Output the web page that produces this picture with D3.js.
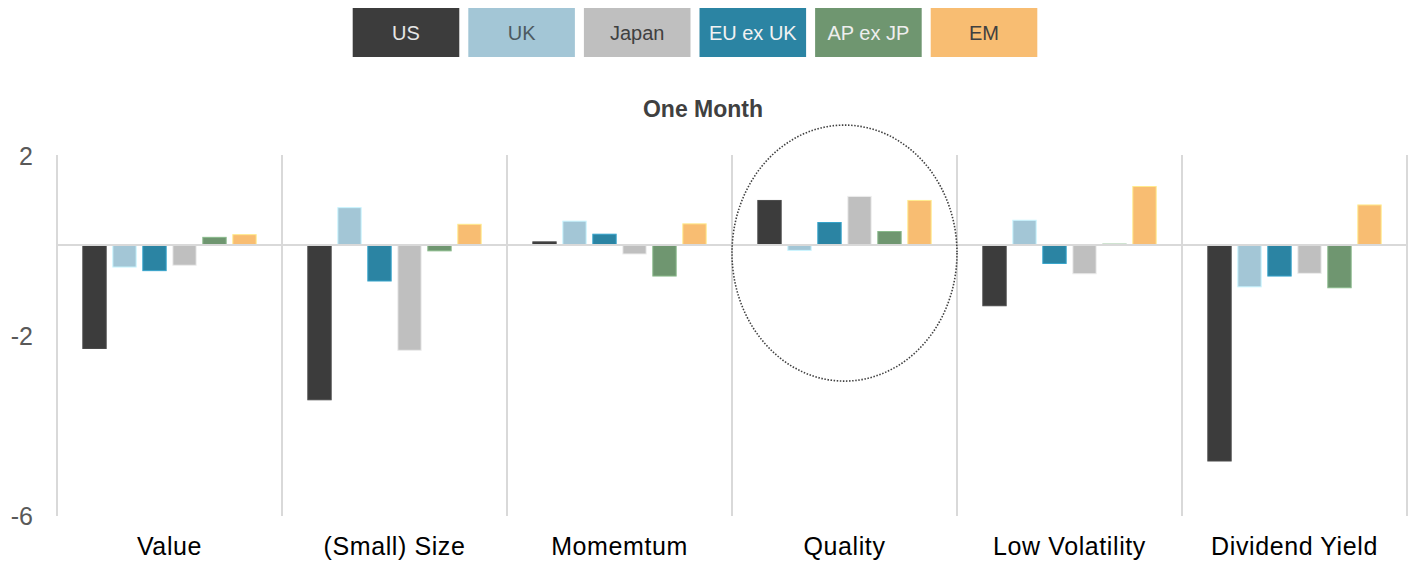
<!DOCTYPE html>
<html>
<head>
<meta charset="utf-8">
<script src="https://cdn.jsdelivr.net/npm/d3@7"></script>
<style>
  html, body { margin: 0; padding: 0; background: #ffffff; }
  svg { display: block; font-family: "Liberation Sans", Arial, sans-serif; }
</style>
</head>
<body>
<svg id="chart" width="1418" height="567"></svg>
<script>
// ---- data ----
const categories = ["Value", "(Small) Size", "Momemtum", "Quality", "Low Volatility", "Dividend Yield"];
const seriesNames = ["US", "UK", "EU ex UK", "Japan", "AP ex JP", "EM"]; // bar order within group
const legendOrder = ["US", "UK", "Japan", "EU ex UK", "AP ex JP", "EM"];
const usValues    = [-2.30, -3.44,  0.07,  0.99, -1.35, -4.80];
const ukValues    = [-0.49,  0.83,  0.53, -0.12,  0.55, -0.93];
const euValues    = [-0.57, -0.80,  0.24,  0.50, -0.41, -0.69];
const japanValues = [-0.45, -2.34, -0.20,  1.08, -0.64, -0.63];
const apValues    = [ 0.17, -0.13, -0.69,  0.30,  0.02, -0.95];
const emValues    = [ 0.23,  0.46,  0.47,  0.99,  1.30,  0.89];
const yTicks = [2, -2, -6];
const title = "One Month";

const valuesBySeries = {
  "US": usValues, "UK": ukValues, "EU ex UK": euValues,
  "Japan": japanValues, "AP ex JP": apValues, "EM": emValues
};
const colors = {
  "US": "#3c3c3c", "UK": "#a3c6d6", "Japan": "#bfbfbf",
  "EU ex UK": "#2b84a3", "AP ex JP": "#6f9670", "EM": "#f8bd72"
};
const legendTextColors = {
  "US": "#e6e6e6", "UK": "#4d5a60", "Japan": "#404040",
  "EU ex UK": "#f2f2f2", "AP ex JP": "#eeeeee", "EM": "#404040"
};

// ---- layout ----
const svg = d3.select("#chart");
const plotLeft = 57, plotRight = 1407, plotTop = 155, plotBottom = 515;

const x0 = d3.scaleBand().domain(categories).range([plotLeft, plotRight]).padding(0);
const x1 = d3.scaleBand().domain(seriesNames).range([0, x0.bandwidth()])
  .paddingInner(0.222).paddingOuter(0.861);
const y = d3.scaleLinear().domain([-6, 2]).range([plotBottom, plotTop]);

// vertical gridlines at group boundaries
const bounds = categories.map(c => x0(c)).concat([plotRight]);
svg.append("g").selectAll("line").data(bounds).join("line")
  .attr("x1", d => d).attr("x2", d => d)
  .attr("y1", plotTop).attr("y2", plotBottom + 1)
  .attr("stroke", "#d9d9d9").attr("stroke-width", 2);

// bars
const groups = svg.append("g").selectAll("g").data(categories).join("g")
  .attr("transform", c => `translate(${x0(c)},0)`);
groups.selectAll("rect")
  .data((c, i) => seriesNames.map(s => ({ s, v: valuesBySeries[s][i] })))
  .join("rect")
  .attr("x", d => x1(d.s))
  .attr("width", x1.bandwidth())
  .attr("y", d => y(Math.max(0, d.v)))
  .attr("height", d => Math.abs(y(d.v) - y(0)))
  .attr("fill", d => colors[d.s])
  .attr("stroke", d => d3.color(colors[d.s]).brighter(0.6))
  .attr("stroke-width", 1);

// zero line
svg.append("line")
  .attr("x1", plotLeft).attr("x2", plotRight)
  .attr("y1", y(0)).attr("y2", y(0))
  .attr("stroke", "#d9d9d9").attr("stroke-width", 2);

// y axis
const yAxis = d3.axisLeft(y).tickValues(yTicks).tickSize(0).tickPadding(0).tickFormat(d => String(d));
const yg = svg.append("g").attr("transform", "translate(33,1)").call(yAxis);
yg.select(".domain").remove();
yg.selectAll("text").attr("font-size", 25).attr("fill", "#595959")
  .attr("font-family", "'Liberation Sans', Arial, sans-serif");

// x labels
const xAxis = d3.axisBottom(x0).tickSize(0).tickPadding(0);
const xg = svg.append("g").attr("transform", "translate(0,537)").call(xAxis);
xg.select(".domain").remove();
xg.selectAll("text").attr("font-size", 25).attr("letter-spacing", 0.6).attr("fill", "#000000")
  .attr("font-family", "'Liberation Sans', Arial, sans-serif");

// title
svg.append("text").attr("x", 703).attr("y", 117)
  .attr("text-anchor", "middle").attr("font-size", 23).attr("font-weight", "bold")
  .attr("fill", "#404040").text(title);

// legend
const legX = d3.scaleBand().domain(legendOrder).range([352.7, 1037.3]).paddingInner(0.078).paddingOuter(0);
const lg = svg.append("g").selectAll("g").data(legendOrder).join("g")
  .attr("transform", d => `translate(${legX(d)},8)`);
lg.append("rect").attr("width", legX.bandwidth()).attr("height", 49)
  .attr("fill", d => colors[d]);
lg.append("text").attr("x", legX.bandwidth() / 2).attr("y", 31.5)
  .attr("text-anchor", "middle").attr("font-size", 20)
  .attr("fill", d => legendTextColors[d]).text(d => d);

// dotted highlight ellipse around Quality
const qc = x0("Quality") + x0.bandwidth() / 2;
svg.append("ellipse")
  .attr("cx", qc).attr("cy", y(-0.18))
  .attr("rx", 112.5).attr("ry", 128)
  .attr("fill", "none").attr("stroke", "#404040")
  .attr("stroke-width", 1.6).attr("stroke-dasharray", "1.5 1.6");
</script>
</body>
</html>
